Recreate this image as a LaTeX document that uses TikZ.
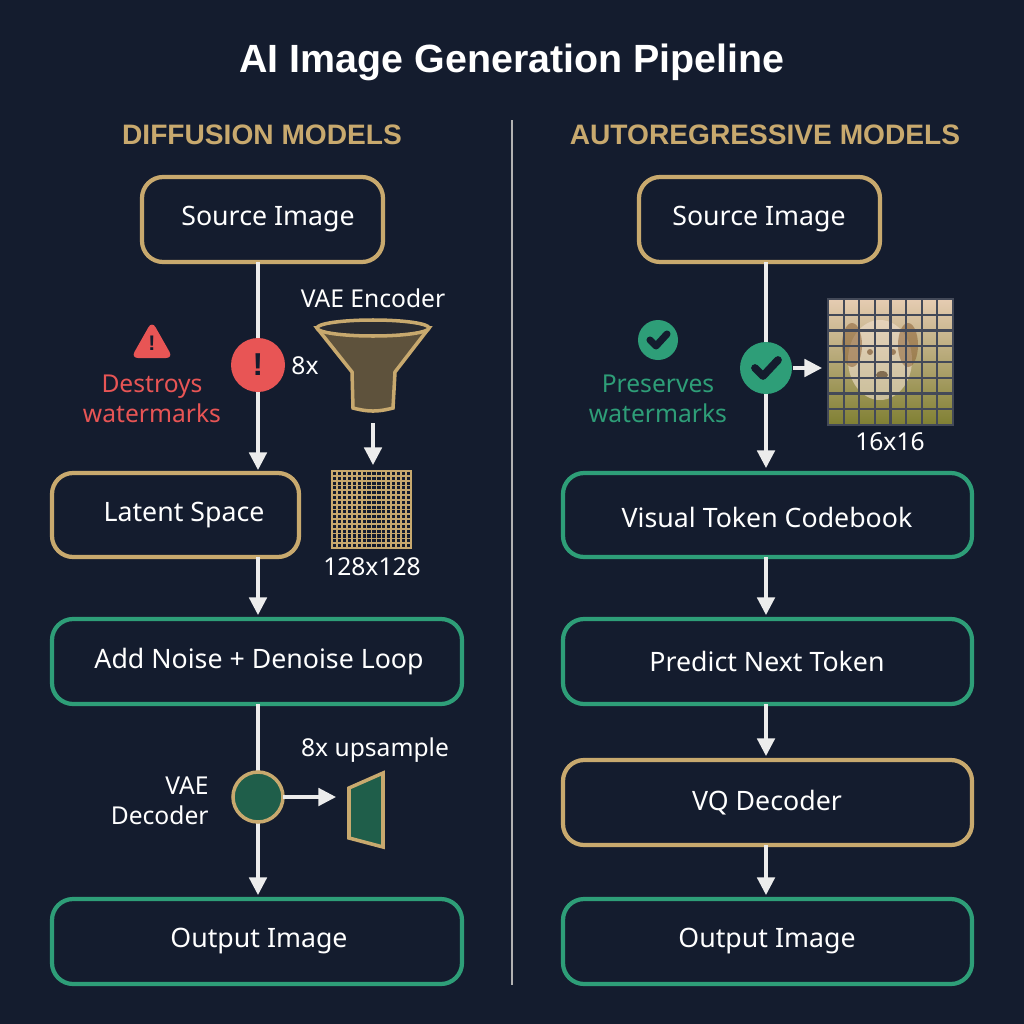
\documentclass[tikz,border=0pt]{standalone}
\usepackage{fontspec}
\setmainfont{Noto Sans}
\newfontfamily\boldfam{Liberation Sans}
\usetikzlibrary{arrows.meta}
\definecolor{bg}{HTML}{141C2E}
\definecolor{gold}{HTML}{C8A96E}
\definecolor{grn}{HTML}{2E9E78}
\definecolor{rd}{HTML}{E85555}
\definecolor{dg}{HTML}{1F5E4A}
\definecolor{fun}{HTML}{5E523C}
\tikzset{
 box/.style={draw=#1,line width=1.2pt,rounded corners=6pt},
 arr/.style={draw=white!85!gray,line width=0.9pt,-{Triangle[width=5pt,length=5pt]}},
 btxt/.style={text=white,font=\fontsize{7.6}{9}\selectfont},
 lbl/.style={text=white,font=\fontsize{7}{8.5}\selectfont},
 head/.style={text=gold,font=\boldfam\bfseries\fontsize{8}{10}\selectfont},
}
\begin{document}
\begin{tikzpicture}[x=0.01cm,y=-0.01cm]
\fill[bg] (0,0) rectangle (1024,1024);
\useasboundingbox (0,0) rectangle (1024,1024);
\node[text=white,font=\boldfam\bfseries\fontsize{11.2}{13}\selectfont] (title) at (512,62) {AI Image Generation Pipeline};
\draw[gray!60,line width=0.6pt] (512,120) -- (512,985);
\node[head] (hl) at (262,135) {DIFFUSION MODELS};
\node[head] (hr) at (765,135) {AUTOREGRESSIVE MODELS};
% left boxes
\draw[box=gold] (142,177) rectangle (383,262); \node[btxt] (lst) at (268,219.5) {Source Image};
\draw[box=gold] (52,473) rectangle (299,557); \node[btxt] (llt) at (184,515) {Latent Space};
\draw[box=grn] (52,619) rectangle (462,704); \node[btxt] (lat) at (259,661.5) {Add Noise + Denoise Loop};
\draw[box=grn] (52,899) rectangle (462,984); \node[btxt] (lot) at (259,941.5) {Output Image};
% right boxes
\draw[box=gold] (639,177) rectangle (880,262); \node[btxt] (rst) at (759,219.5) {Source Image};
\draw[box=grn] (563,473) rectangle (972,557); \node[btxt] (rvt) at (767,517) {Visual Token Codebook};
\draw[box=grn] (563,619) rectangle (972,704); \node[btxt] (rpt) at (767,661.5) {Predict Next Token};
\draw[box=gold] (563,760) rectangle (972,845); \node[btxt] (rvq) at (767,802.5) {VQ Decoder};
\draw[box=grn] (563,899) rectangle (972,984); \node[btxt] (rot) at (767,941.5) {Output Image};
% left flow
\coordinate (a1) at (258,262); \coordinate (a2) at (258,470);
\draw[arr] (a1) -- (a2);
\fill[rd] (258,365) circle (27);
\node[text=bg,font=\boldfam\bfseries\fontsize{9}{10}\selectfont] (ex) at (258,365) {!};
\node[lbl] (eight) at (305,366) {8x};
\draw[arr] (258,557) -- (258,615);
\draw[arr] (258,704) -- (258,895);
\draw[fill=dg,draw=gold,line width=1pt] (258,797) circle (25);
\draw[arr] (283,797) -- (336,797);
\draw[fill=dg,draw=gold,line width=1pt] (349,788) -- (383,773) -- (383,847) -- (349,838) -- cycle;
\node[lbl] (ups) at (375,750) {8x upsample};
\node[lbl,align=right,anchor=east] (vaed) at (221,801) {VAE\\Decoder};
% warning
\fill[rd,rounded corners=2pt] (152,321) -- (173,358) -- (131,358) -- cycle;
\node[text=bg,font=\boldfam\bfseries\fontsize{6}{7}\selectfont] (wx) at (152,343) {!};
\node[text=rd,font=\fontsize{7}{8.5}\selectfont,align=center] (dw) at (152,399) {Destroys\\watermarks};
% encoder
\node[lbl] (vaee) at (373,298) {VAE Encoder};
\draw[fill=fun,draw=gold,line width=1pt] (317,328) -- (352,372) -- (353,408) to[bend right=15] (393,408) -- (395,372) -- (429,328) -- cycle;
\draw[fill=bg!70!fun,draw=gold,line width=1pt] (373,328) ellipse (56 and 8);
\draw[arr] (373,423) -- (373,465);
\fill[bg] (332,471) rectangle (411,548);
\foreach \i in {1,...,15}{
  \draw[gold,line width=0.5pt] ({332+\i*79/16},471) -- ({332+\i*79/16},548);
  \draw[gold,line width=0.5pt] (332,{471+\i*77/16}) -- (411,{471+\i*77/16});
}
\draw[gold,line width=0.6pt] (332,471) rectangle (411,548);
\node[lbl] (l128) at (372,567) {128x128};
% right flow
\draw[arr] (766,262) -- (766,468);
\fill[grn] (766,368) circle (26);
\draw[bg,line width=2.2pt,line cap=round,line join=round] (755,368) -- (763,376) -- (778,360);
\draw[arr] (793,368) -- (822,368);
\shade[top color=brown!40!white,bottom color=olive!30!gray] (828,299) rectangle (953,425);
\fill[white!75!brown,opacity=0.6] (880,360) ellipse (32 and 40);
\fill[brown!70!black,opacity=0.5] (852,345) ellipse (10 and 22);
\fill[brown!70!black,opacity=0.5] (908,345) ellipse (10 and 22);
\fill[brown!60!black,opacity=0.6] (870,352) circle (3); \fill[brown!60!black,opacity=0.6] (893,352) circle (3);
\fill[brown!40!black,opacity=0.6] (882,375) ellipse (6 and 4);
\foreach \i in {1,...,7}{
  \draw[bg!80,line width=0.6pt] ({828+\i*125/8},299) -- ({828+\i*125/8},425);
  \draw[bg!80,line width=0.6pt] (828,{299+\i*126/8}) -- (953,{299+\i*126/8});
}
\draw[bg!80,line width=0.6pt] (828,299) rectangle (953,425);
\node[lbl] (l16) at (890,442) {16x16};
\fill[grn] (658,340) circle (20);
\draw[bg,line width=2pt,line cap=round,line join=round] (650,340) -- (656,346) -- (667,334);
\node[text=grn,font=\fontsize{7}{8.5}\selectfont,align=center] (pw) at (658,399) {Preserves\\watermarks};
\draw[arr] (766,557) -- (766,615);
\draw[arr] (766,704) -- (766,756);
\draw[arr] (766,845) -- (766,895);
\end{tikzpicture}
\end{document}
